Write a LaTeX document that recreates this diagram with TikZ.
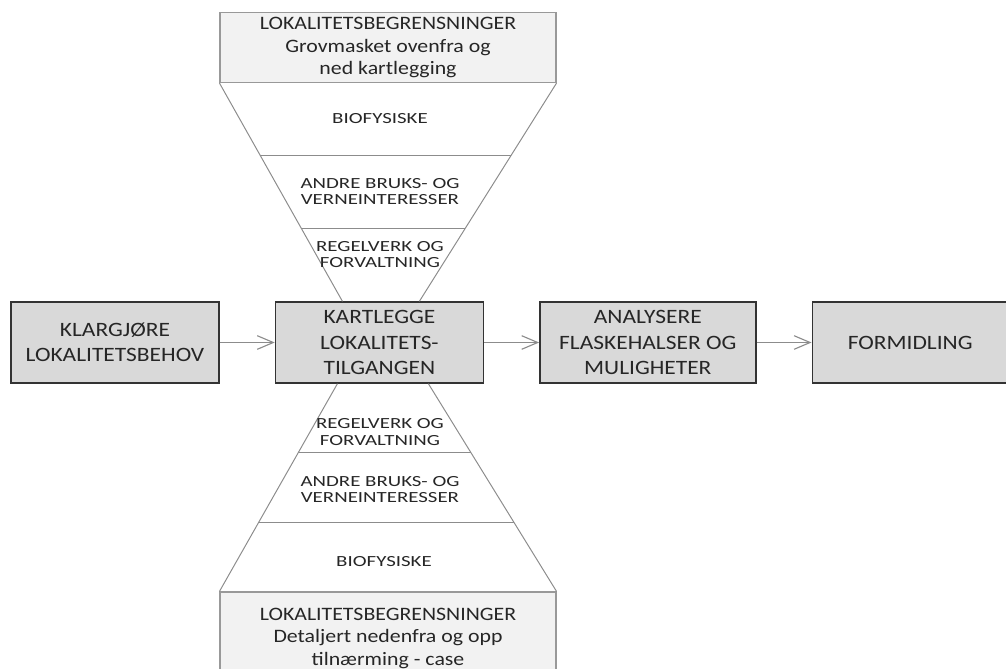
\documentclass[tikz,border=0pt]{standalone}
\usepackage{fontspec}
\setmainfont{Carlito}[FakeStretch=1.15]
\newfontfamily\layerfont{Carlito}[FakeStretch=1.35]
\usetikzlibrary{arrows.meta,positioning,calc}

\begin{document}
\begin{tikzpicture}[
        node distance=1.375cm,
        box/.style={rectangle, draw=black!80, fill=black!15, line width=1pt, minimum height=2.025cm, align=center, text=black!85, font=\fontsize{14.5}{18}\selectfont},
        limit/.style={rectangle, draw=black!40, fill=black!5, line width=0.8pt, minimum width=8.4cm, align=center, text=black!85, font=\fontsize{13.5}{16}\selectfont},
        layer/.style={align=center, text=black!85, font=\layerfont\fontsize{11}{11.5}\selectfont},
        funnel/.style={draw=black!45, line width=0.7pt},
        arrow/.style={-{Straight Barb[length=4mm,width=3.4mm]}, draw=black!45, line width=0.8pt}
    ]
        \useasboundingbox (0,0) rectangle (25.15,16.7);

        % Main process
        \node[box, minimum width=5.2cm] (behov) at (2.875,8.1375) {KLARGJØRE\\LOKALITETSBEHOV};
        \node[box, minimum width=5.2cm] (kart) [right=of behov] {KARTLEGGE\\LOKALITETS-\\TILGANGEN};
        \node[box, minimum width=5.4cm] (analyse) [right=of kart] {ANALYSERE\\FLASKEHALSER OG\\MULIGHETER};
        \node[box, minimum width=4.9cm] (formidling) [right=of analyse] {FORMIDLING};

        % Arrows
        \draw[arrow] (behov) -- (kart);
        \draw[arrow] (kart) -- (analyse);
        \draw[arrow] (analyse) -- (formidling);

        % Upper funnel
        \node[limit, minimum height=1.725cm] (grov) at (9.7,15.5125) {LOKALITETSBEGRENSNINGER\\Grovmasket ovenfra og\\ned kartlegging};
        \coordinate (tl) at ($(kart.north)+(-0.925,0)$);
        \coordinate (tr) at ($(kart.north)+(1.0,0)$);
        \draw[funnel] (grov.south west) -- (tl);
        \draw[funnel] (grov.south east) -- (tr);
        \draw[funnel] ($(grov.south west)!1/3!(tl)$) -- ($(grov.south east)!1/3!(tr)$);
        \draw[funnel] ($(grov.south west)!2/3!(tl)$) -- ($(grov.south east)!2/3!(tr)$);
        \node[layer] (biotop) at (9.5,13.74) {BIOFYSISKE};
        \node[layer] (andretop) at (9.5,11.91) {ANDRE BRUKS- OG\\VERNEINTERESSER};
        \node[layer] (regeltop) at (9.5,10.34) {REGELVERK OG\\FORVALTNING};

        % Lower funnel
        \node[limit, minimum height=2.3cm] (detalj) at (9.7,0.75) {LOKALITETSBEGRENSNINGER\\Detaljert nedenfra og opp\\tilnærming - case};
        \coordinate (bl) at ($(kart.south)+(-1.05,0)$);
        \coordinate (br) at ($(kart.south)+(1.225,0)$);
        \draw[funnel] (bl) -- (detalj.north west);
        \draw[funnel] (br) -- (detalj.north east);
        \draw[funnel] ($(bl)!1/3!(detalj.north west)$) -- ($(br)!1/3!(detalj.north east)$);
        \draw[funnel] ($(bl)!2/3!(detalj.north west)$) -- ($(br)!2/3!(detalj.north east)$);
        \node[layer] (regelbot) at (9.5,5.9) {REGELVERK OG\\FORVALTNING};
        \node[layer] (andrebot) at (9.5,4.46) {ANDRE BRUKS- OG\\VERNEINTERESSER};
        \node[layer] (biobot) at (9.6,2.65) {BIOFYSISKE};

    \end{tikzpicture}
\end{document}
